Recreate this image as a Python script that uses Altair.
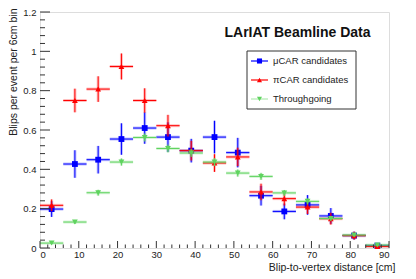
import altair as alt
import pandas as pd

# ---- data ----
centers = [3, 9, 15, 21, 27, 33, 39, 45, 51, 57, 63, 69, 75, 81, 87]
bin_half = 3
mu_vals = [0.198, 0.427, 0.449, 0.554, 0.610, 0.564, 0.495, 0.564, 0.485, 0.266, 0.186, 0.219, 0.163, 0.063, 0.012]
mu_errs = [0.04, 0.07, 0.07, 0.08, 0.08, 0.075, 0.06, 0.083, 0.075, 0.05, 0.04, 0.05, 0.04, 0.02, 0.01]
pi_vals = [0.217, 0.750, 0.808, 0.923, 0.750, 0.622, 0.495, 0.432, 0.463, 0.285, 0.251, 0.208, 0.149, 0.063, 0.008]
pi_errs = [0.03, 0.06, 0.065, 0.066, 0.062, 0.055, 0.05, 0.045, 0.047, 0.042, 0.035, 0.035, 0.03, 0.02, 0.01]
th_vals = [0.025, 0.132, 0.281, 0.437, 0.562, 0.506, 0.483, 0.437, 0.381, 0.364, 0.280, 0.237, 0.150, 0.066, 0.015]
th_errs = [0.005, 0.01, 0.015, 0.018, 0.02, 0.02, 0.02, 0.02, 0.018, 0.018, 0.015, 0.015, 0.012, 0.008, 0.004]

series_names = ["μCAR candidates", "πCAR candidates", "Throughgoing"]
series_colors = ["#0000ff", "#ff0000", "#5fd35f"]
series_shapes = ["square", "triangle-up", "triangle-down"]

x_major = [0, 10, 20, 30, 40, 50, 60, 70, 80, 90]
x_minor = [v for v in range(0, 91, 2) if v % 10 != 0]
y_major = [0, 0.2, 0.4, 0.6, 0.8, 1.0, 1.2]
y_minor = [round(i * 0.04, 2) for i in range(0, 31) if i % 5 != 0]

W, H = 349, 236
FONT = "Liberation Sans"

xs = alt.Scale(domain=[0, 90], nice=False, zero=False)
ys = alt.Scale(domain=[0, 1.2], nice=False, zero=False)

AX = alt.Axis(
    values=x_major, ticks=False, domain=False, grid=False, labelFont=FONT, labelFontSize=9.5,
    labelColor="#222", labelPadding=1, format="d", labelOverlap=False,
    title="Blip-to-vertex distance [cm]", titleFont=FONT, titleFontSize=10.5,
    titleFontWeight="normal", titleColor="#222", titleX=355, titleY=19,
    titleAlign="right", titleBaseline="middle")
AY = alt.Axis(
    values=y_major, ticks=False, domain=False, grid=False, labelFont=FONT, labelFontSize=9.5,
    labelColor="#222", labelPadding=4, labelOverlap=False,
    labelExpr="datum.value == 0 ? '0' : format(datum.value, '.1~f')",
    title="Blips per event per 6cm bin", titleFont=FONT, titleFontSize=10.5,
    titleFontWeight="normal", titleColor="#222", titleX=-27, titleY=-4,
    titleAngle=-90, titleAlign="right", titleBaseline="middle")


def X(f):
    return alt.X(f, scale=xs, axis=AX)


def Y(f):
    return alt.Y(f, scale=ys, axis=AY)


layers = []
for name, vals, errs, col, shp in zip(series_names, [mu_vals, pi_vals, th_vals],
                                      [mu_errs, pi_errs, th_errs], series_colors, series_shapes):
    df = pd.DataFrame({
        "x": centers,
        "xlo": [c - bin_half for c in centers],
        "xhi": [c + bin_half for c in centers],
        "y": vals,
        "ylo": [v - e for v, e in zip(vals, errs)],
        "yhi": [v + e for v, e in zip(vals, errs)],
    })
    base = alt.Chart(df)
    for sw, op in [(3, 0.25), (1, 1.0)]:
        layers.append(base.mark_rule(color=col, strokeWidth=sw, opacity=op).encode(
            x=X("xlo:Q"), x2="xhi:Q", y=Y("y:Q")))
        layers.append(base.mark_rule(color=col, strokeWidth=sw, opacity=op).encode(
            x=X("x:Q"), y=Y("ylo:Q"), y2="yhi:Q"))
    layers.append(base.mark_point(shape=shp, filled=True, color=col, size=34, opacity=1).encode(
        x=X("x:Q"), y=Y("y:Q")))

xmaj = alt.Chart(pd.DataFrame({"v": x_major})).mark_rule(color="#333", strokeWidth=1).encode(
    x=X("v:Q"), y=alt.value(H), y2=alt.value(H - 7))
xmin = alt.Chart(pd.DataFrame({"v": x_minor})).mark_rule(color="#333", strokeWidth=1).encode(
    x=X("v:Q"), y=alt.value(H), y2=alt.value(H - 3.5))
ymaj = alt.Chart(pd.DataFrame({"v": y_major})).mark_rule(color="#333", strokeWidth=1).encode(
    y=Y("v:Q"), x=alt.value(0), x2=alt.value(10))
ymin = alt.Chart(pd.DataFrame({"v": y_minor})).mark_rule(color="#333", strokeWidth=1).encode(
    y=Y("v:Q"), x=alt.value(0), x2=alt.value(5))

# title
title_layer = alt.Chart(pd.DataFrame({"t": ["LArIAT Beamline Data"]})).mark_text(
    font=FONT, fontSize=14, fontWeight="bold", color="#111", align="center", baseline="middle"
).encode(text="t:N", x=alt.value(257.5), y=alt.value(21))

# legend
leg_box = alt.Chart(pd.DataFrame({"a": [0]})).mark_rect(
    fill="white", stroke="#333", strokeWidth=1).encode(
    x=alt.value(207), x2=alt.value(316), y=alt.value(39), y2=alt.value(97))
leg_layers = [leg_box]
row_y = [49, 68, 87]
for name, col, shp, ry in zip(series_names, series_colors, series_shapes, row_y):
    d = pd.DataFrame({"t": [name]})
    leg_layers.append(alt.Chart(d).mark_rule(color=col, strokeWidth=1.2,
                                             opacity=0.5 if col == "#5fd35f" else 1).encode(
        x=alt.value(211), x2=alt.value(228), y=alt.value(ry)))
    leg_layers.append(alt.Chart(d).mark_point(shape=shp, filled=True, color=col, size=26, opacity=1).encode(
        x=alt.value(219.5), y=alt.value(ry)))
    leg_layers.append(alt.Chart(d).mark_text(font=FONT, fontSize=9.5, color="#222", align="left",
                                             baseline="middle").encode(
        text="t:N", x=alt.value(233), y=alt.value(ry)))

chart = alt.layer(*layers, xmaj, xmin, ymaj, ymin, title_layer, *leg_layers).properties(
    width=W, height=H,
    autosize=alt.AutoSizeParams(type="none"),
    padding={"left": 32, "top": 4, "right": 19, "bottom": 28},
).configure_view(stroke="#333", strokeWidth=1).configure(background="white")

chart.save("out.html", embed_options={"renderer": "svg", "actions": False})
